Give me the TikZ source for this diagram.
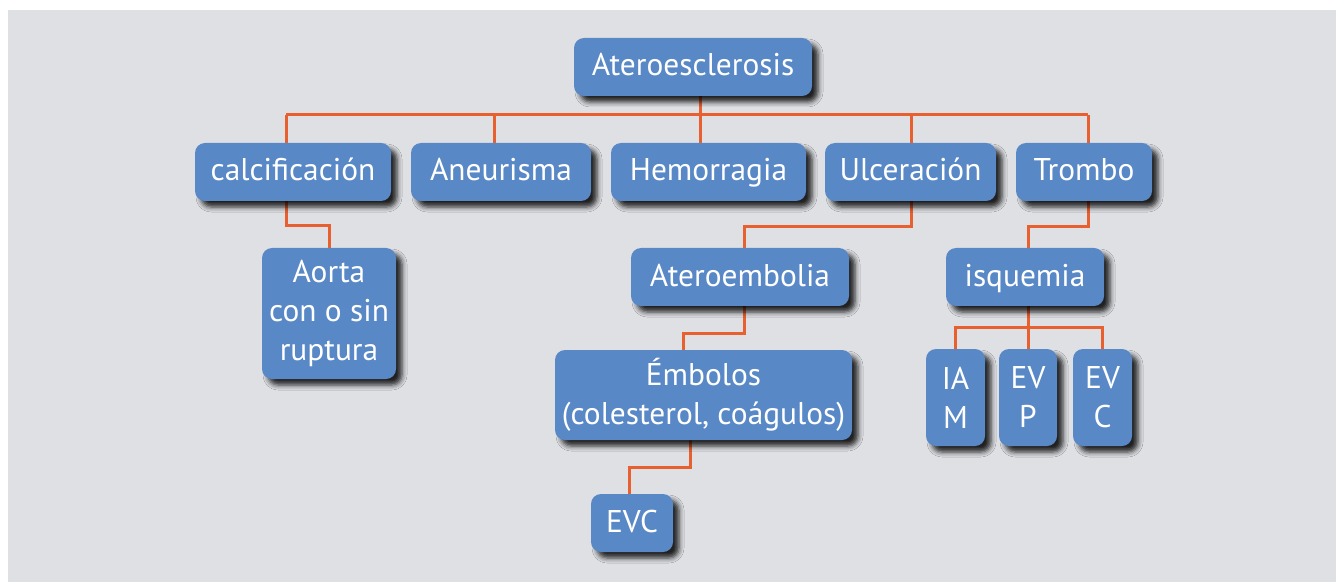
\documentclass[tikz,border=0pt]{standalone}
\usepackage{fontspec}
\setmainfont{PT Sans}
\usetikzlibrary{shadows.blur,backgrounds}
\definecolor{boxblue}{RGB}{89,136,198}
\definecolor{linkred}{RGB}{232,96,48}
\definecolor{paper}{RGB}{223,224,228}

\begin{document}
\begin{tikzpicture}[x=0.5pt, y=-0.5pt,
    box/.style={fill=boxblue, rounded corners=5pt, text=white, align=center, inner sep=0pt,
        font=\fontsize{15.7}{19.5}\selectfont, minimum height=29pt,
        blur shadow={shadow xshift=3pt, shadow yshift=-3pt, shadow blur radius=2.5pt, shadow opacity=85}},
    word/.style={box, text height=13pt, text depth=4pt},
    link/.style={draw=linkred, line width=1.5pt}
]

\useasboundingbox (0,0) rectangle (1336,582);

\node[word, minimum width=119pt] (root) at (693,67) {Ateroesclerosis};
\node[word, minimum width=98pt] (calc) at (293,172) {calcificación};
\node[word, minimum width=90pt] (aneu) at (501,172) {Aneurisma};
\node[word, minimum width=97.5pt] (hemo) at (708.5,172) {Hemorragia};
\node[word, minimum width=85.5pt] (ulce) at (910.5,172) {Ulceración};
\node[word, minimum width=68pt] (trom) at (1084,172) {Trombo};
\node[box, minimum width=67pt, minimum height=65.5pt] (aorta) at (329,313.5) {Aorta\\con o sin\\ruptura};
\node[word, minimum width=109pt] (atem) at (740,277) {Ateroembolia};
\node[box, minimum width=148.5pt, minimum height=45pt] (embo) at (703.5,395) {Émbolos\\(colesterol, coágulos)};
\node[word, minimum width=41pt] (evc) at (632,523) {EVC};
\node[word, minimum width=79pt] (isq) at (1025,277) {isquemia};
\node[box, minimum width=29.5pt, minimum height=48.5pt] (iam) at (955.5,397.5) {IA\\M};
\node[box, minimum width=29pt, minimum height=48.5pt] (evp) at (1028,397.5) {EV\\P};
\node[box, minimum width=29.5pt, minimum height=48.5pt] (evcc) at (1102.5,397.5) {EV\\C};

\coordinate (b1) at (286,115);
\coordinate (b2) at (494,115);
\coordinate (b3) at (700,115);
\coordinate (b4) at (911,115);
\coordinate (b5) at (1088,115);
\coordinate (k1) at (286,226);
\coordinate (k2) at (911,227);
\coordinate (k3) at (744,333);
\coordinate (k4) at (690,467);
\coordinate (k5) at (1088,227);
\coordinate (k6) at (1028,327);

\begin{scope}[on background layer]
\fill[paper] (8,10) rectangle (1336,582);
\draw[link] (b1) -- (b5);
\draw[link] (root.south -| b3) -- (hemo.north -| b3);
\draw[link] (b1) -- (calc.north -| b1);
\draw[link] (b2) -- (aneu.north -| b2);
\draw[link] (b4) -- (ulce.north -| b4);
\draw[link] (b5) -- (trom.north -| b5);
\draw[link] (calc.south -| k1) -- (k1) -| (aorta.north);
\draw[link] (ulce.south -| k2) -- (k2) -| ([xshift=2pt]atem.north);
\draw[link] (atem.south -| k3) -- (k3) -| ([xshift=-10.25pt]embo.north);
\draw[link] (embo.south -| k4) -- (k4) -| ([xshift=-1.5pt]evc.north);
\draw[link] (trom.south -| k5) -- (k5) -| ([xshift=1.5pt]isq.north);
\draw[link] (isq.south -| k6) -- (k6);
\draw[link] (iam.north) |- (k6) -| (evcc.north);
\draw[link] (k6) -- (evp.north);
\end{scope}

\end{tikzpicture}
\end{document}
